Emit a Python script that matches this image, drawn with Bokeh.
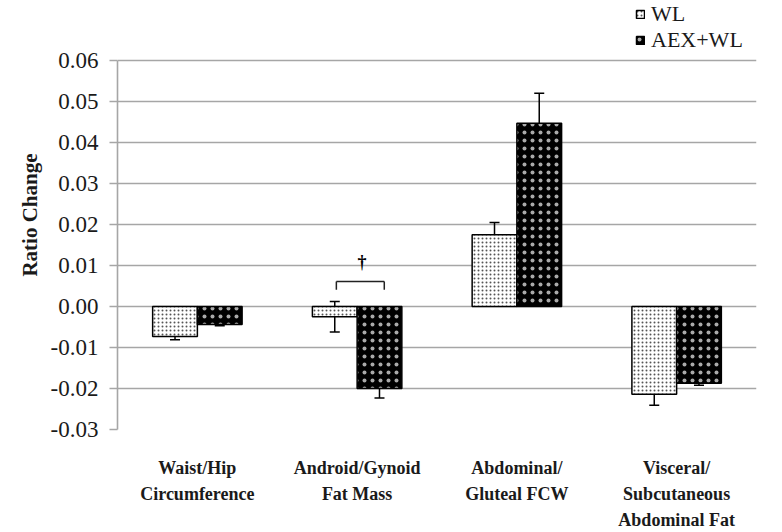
from bokeh.plotting import figure
from bokeh.models import (ColumnDataSource, FactorRange, Range1d, Whisker, TeeHead,
                          Legend, LegendItem, FixedTicker, NumeralTickFormatter)
from bokeh.transform import dodge
from bokeh.core.properties import value
from bokeh.embed import file_html
from bokeh.resources import INLINE

# ---- data ----
categories = ["Waist/Hip\nCircumference", "Android/Gynoid\nFat Mass",
              "Abdominal/\nGluteal FCW", "Visceral/\nSubcutaneous\nAbdominal Fat"]
series_names = ["WL", "AEX+WL"]
wl = [-0.0073, -0.0025, 0.0175, -0.0214]
wl_err = [0.0008, 0.0037, 0.0030, 0.0027]
aex = [-0.0044, -0.0200, 0.0447, -0.0187]
aex_err = [0.0003, 0.0023, 0.0073, 0.0005]
y_ticks = [-0.03, -0.02, -0.01, 0.0, 0.01, 0.02, 0.03, 0.04, 0.05, 0.06]
sig_category = "Android/Gynoid\nFat Mass"
sig_mark = "\u2020"

FONT = "Liberation Serif"

src = ColumnDataSource(dict(
    cat=categories,
    wl=wl, wl_up=[v + e for v, e in zip(wl, wl_err)], wl_lo=[v - e for v, e in zip(wl, wl_err)],
    aex=aex, aex_up=[v + e for v, e in zip(aex, aex_err)], aex_lo=[v - e for v, e in zip(aex, aex_err)],
))

# frame spans the full top of the picture so the legend can sit above the 0.06 line
frame_h = 431
px_per_unit = 4120.0
y_lo = y_ticks[0]
y_hi = y_lo + frame_h / px_per_unit

p = figure(x_range=FactorRange(*categories, range_padding=0),
           y_range=Range1d(y_lo, y_hi),
           width=782, height=532, output_backend="svg", toolbar_location=None,
           min_border_left=117, min_border_right=26, min_border_top=0, min_border_bottom=101)
p.outline_line_color = None
p.background_fill_color = "white"
p.border_fill_color = "white"

# grid
p.xgrid.grid_line_color = None
p.ygrid.grid_line_color = "#a6a6a6"
p.ygrid.grid_line_width = 1.6
p.ygrid.ticker = FixedTicker(ticks=y_ticks)

# y axis
p.yaxis.ticker = FixedTicker(ticks=y_ticks)
p.yaxis.bounds = (y_ticks[0], y_ticks[-1])
p.yaxis.formatter = NumeralTickFormatter(format="0.00")
p.yaxis.axis_line_color = "#a6a6a6"
p.yaxis.axis_line_width = 1.6
p.yaxis.major_tick_line_color = "#a6a6a6"
p.yaxis.major_tick_line_width = 1.6
p.yaxis.major_tick_out = 8
p.yaxis.major_tick_in = 0
p.yaxis.minor_tick_line_color = None
p.yaxis.major_label_text_font = FONT
p.yaxis.major_label_text_font_size = "23px"
p.yaxis.major_label_text_color = "#1a1a1a"
p.yaxis.major_label_standoff = 11
p.yaxis.axis_label = "Ratio Change"
p.yaxis.axis_label_text_font = FONT
p.yaxis.axis_label_text_font_style = "bold"
p.yaxis.axis_label_text_font_size = "21px"
p.yaxis.axis_label_text_color = "#1a1a1a"
p.yaxis.axis_label_standoff = 6

# x axis: multi-line category labels
p.xaxis.axis_line_color = None
p.xaxis.major_tick_line_color = None
p.xaxis.minor_tick_line_color = None
p.xaxis.major_tick_out = 0
p.xaxis.major_label_text_font = FONT
p.xaxis.major_label_text_font_style = "bold"
p.xaxis.major_label_text_font_size = "18px"
p.xaxis.major_label_text_color = "#1a1a1a"
p.xaxis.major_label_text_line_height = 1.3
p.xaxis.major_label_standoff = 28
p.xaxis.major_label_orientation = "horizontal"

bw = 0.28
r_wl = p.vbar(x=dodge("cat", -0.14, range=p.x_range), top="wl", bottom=0, width=bw, source=src,
              fill_color="white", line_color="black", line_width=1.5,
              hatch_pattern="dot", hatch_color="#555555", hatch_scale=4, hatch_weight=1)
r_aex = p.vbar(x=dodge("cat", 0.14, range=p.x_range), top="aex", bottom=0, width=bw, source=src,
               fill_color="black", line_color="black", line_width=1.5,
               hatch_pattern="dot", hatch_color="#aaaaaa", hatch_scale=8, hatch_weight=1)

for off, up, lo in [(-0.14, "wl_up", "wl_lo"), (0.14, "aex_up", "aex_lo")]:
    w = Whisker(base=dodge("cat", off, range=p.x_range), upper=up, lower=lo, source=src,
                line_color="black", line_width=1.5,
                upper_head=TeeHead(size=10, line_color="black", line_width=1.5),
                lower_head=TeeHead(size=10, line_color="black", line_width=1.5))
    p.add_layout(w)

# significance bracket
sig_src = ColumnDataSource(dict(cat=[sig_category], y=[0.0061], yleg=[0.0041], ty=[0.0108], t=[sig_mark]))
p.segment(x0=dodge("cat", -0.13, range=p.x_range), x1=dodge("cat", 0.17, range=p.x_range),
          y0="y", y1="y", source=sig_src, line_color="#222222", line_width=1.5)
p.segment(x0=dodge("cat", -0.13, range=p.x_range), x1=dodge("cat", -0.13, range=p.x_range),
          y0="y", y1="yleg", source=sig_src, line_color="#222222", line_width=1.5)
p.segment(x0=dodge("cat", 0.17, range=p.x_range), x1=dodge("cat", 0.17, range=p.x_range),
          y0="y", y1="yleg", source=sig_src, line_color="#222222", line_width=1.5)
p.text(x=dodge("cat", 0.03, range=p.x_range), y="ty", text="t", source=sig_src,
       text_font=value(FONT), text_font_size="18px", text_font_style="bold", text_align="center",
       text_baseline="middle", text_color="black")

# legend inside the (extended) frame, above the 0.06 grid line
legend = Legend(items=[LegendItem(label=series_names[0], renderers=[r_wl]),
                       LegendItem(label=series_names[1], renderers=[r_aex])],
                location=(518, 376), orientation="vertical",
                padding=0, margin=0, spacing=0,
                glyph_width=10, glyph_height=10, label_height=26,
                label_standoff=6,
                label_text_font=FONT, label_text_font_size="22px", label_text_color="#1a1a1a",
                border_line_color=None, background_fill_color=None)
p.add_layout(legend, "center")

open("out.html", "w").write(file_html(p, INLINE))
